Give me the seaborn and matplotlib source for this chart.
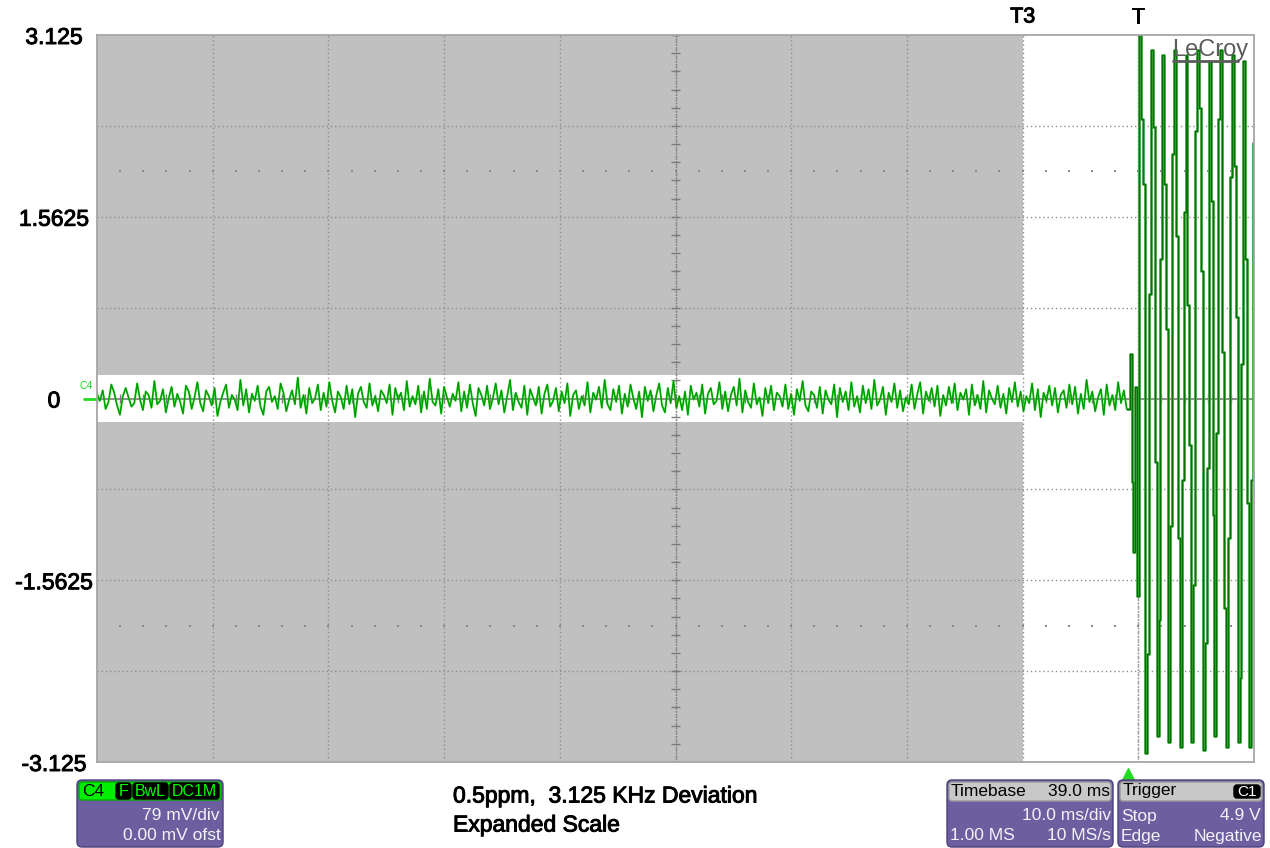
import numpy as np
import pandas as pd
import matplotlib
matplotlib.use("Agg")
import matplotlib.pyplot as plt
import matplotlib.transforms as mtransforms
import matplotlib.patheffects as pe
from matplotlib.patches import FancyBboxPatch
import seaborn as sns

# ---------------- data ----------------
# channel C4 noise before the trigger, in hundredths of a volt
noise_cv = [
    4, -2, 7, -9, -3, 12, 5, -6, -14, 2, 9, 1, -7, -4, 13, -1, -10, 6, 3, -8,
    15, -5, -2, 8, -12, 0, 10, -7, 4, -3, -13, 11, 6, -9, 1, 14, -4, -11, 7, 2,
    -6, 9, -15, -3, 5, 12, -8, 3, -1, -10, 16, -6, 8, -12, 4, -2, 11, -7, -14, 6,
    10, -3, 2, -9, 13, 5, -11, -1, 7, -5, 18, -8, 3, -13, 9, -4, 0, 12, -10, 5,
    -7, 14, -2, -12, 6, 1, -9, 11, -5, 8, -16, 4, 10, -3, -8, 13, -6, 2, -11, 7,
    3, -4, 12, -14, 9, -1, 5, -10, 15, -7, 2, -5, 11, -12, 6, -9, 17, -3, -6, 8,
    -13, 10, 1, -7, 4, -2, 14, -11, 6, -8, 12, -4, -15, 9, 3, -6, 11, -9, 0, 13,
    -5, 7, -12, 2, 16, -10, 5, -3, -8, 11, -14, 8, 1, -6, 10, -13, 4, 12, -7, -2,
    9, -11, 6, -4, 13, -15, 3, 7, -9, 2, -6, 14, -12, 5, -1, 10, -8, 16, -5, -10,
    8, -3, 11, -13, 4, -7, 12, 0, -9, 6, -16, 10, -2, 7, -11, 3, 13, -6, -12, 9,
    -4, 15, -8, 2, -10, 6, -14, 11, -1, 5, -7, 12, -13, 4, 9, -5, -2, 14, -9, 6,
    -11, 3, 10, -6, 17, -12, 7, -3, -8, 13, -5, 1, -15, 9, -4, 11, -10, 5, 2, -7,
    12, -9, 4, -14, 8, -2, 15, -6, -11, 6, 3, -8, 10, -13, 7, -1, -5, 12, -16, 9,
    -3, 6, -10, 14, -7, 2, -12, 11, -4, 8, -9, 16, -6, -1, 10, -14, 5, -3, 13, -8,
    7, -11, 1, -5, 12, -9, 4, 14, -13, 6, -2, 9, -7, 11, -15, 3, -6, 10, -4, 13,
    -10, 5, -1, 8, -14, 12, -6, 3, -9, 15, -12, 7, 0, -5, 11, -8, 4, -13, 9, -3,
    14, -7, 6, -11, 2, -4, 13, -10, 8, -16, 5, -2, 11, -6, 9, -12, 3, 7, -8, 12,
    -5, 10, -13, 4, -9, 16, -3, 6, -11, 1, 8, -14, 12, -6, 3, -10, 14, -4, 7, -9,
]
noise_end_div = 8.9

# transition + burst after the trigger, volts, one sample every 1/60 div from 8.925 div
burst_v = [
    0.38, -0.72, -1.32, 0.10, -1.70,
    3.15, 2.40, 1.84, -3.05, -2.20, 0.90,
    3.00, 2.33, -0.55, -2.90, -1.90, 1.20,
    2.95, 1.84, 0.60, -2.95, -1.10, 2.10,
    3.00, 1.40, -1.20, -3.00, -0.70, 1.60,
    2.95, 0.80, -0.40, -2.95, -1.60, 2.30,
    3.00, 2.50, 1.10, -3.02, -2.10, -0.60,
    2.90, 1.70, -1.00, -2.90, -0.30, 2.40,
    3.00, 0.40, -1.80, -3.00, -1.20, 1.90,
    2.95, 2.00, 0.70, -2.95, -2.40, 0.30,
    2.90, 1.20, -0.90, -3.00, -0.70, 2.20,
    2.90,
]
burst_start_div = 8.925
burst_step_div = 1 / 60

volts_per_div = 0.78125
y_tick_values = [3.125, 1.5625, 0.0, -1.5625, -3.125]
y_tick_labels = ["3.125", "1.5625", "0", "-1.5625", "-3.125"]
cursor_labels = ["T3", "T"]
cursor_divs = [8.0, 9.0]
shade_end_div = 8.0
band_half_v = 0.206
title_lines = ["0.5ppm,  3.125 KHz Deviation", "Expanded Scale"]

# ---------------- frames ----------------
noise_t = np.linspace(0.0, noise_end_div, len(noise_cv))
df_noise = pd.DataFrame({"t": noise_t, "v": np.array(noise_cv) / 100.0})
burst_t = burst_start_div + burst_step_div * np.arange(len(burst_v))
df_burst = pd.DataFrame({"t": np.concatenate([[noise_t[-1]], burst_t]),
                         "v": np.concatenate([[noise_cv[-1] / 100.0], burst_v])})

# ---------------- figure ----------------
sns.set_theme(style="white")
plt.rcParams["font.family"] = ["Liberation Sans", "DejaVu Sans"]

W, H = 1270, 848
fig = plt.figure(figsize=(W / 100, H / 100), dpi=100)
fig.patch.set_facecolor("white")
ax = fig.add_axes([97 / W, 1 - 762 / H, (1254 - 97) / W, (762 - 35) / H])
ax.set_xlim(0, 10)
ax.set_ylim(-3.125, 3.125)
ax.set_facecolor("white")

heavy = [pe.withStroke(linewidth=0.7, foreground="black")]

gray = "#c0c0c0"
ax.fill_between([0, shade_end_div], band_half_v, 3.125, color=gray, lw=0, zorder=0)
ax.fill_between([0, shade_end_div], -3.125, -band_half_v, color=gray, lw=0, zorder=0)

gcol = "#8e8e8e"
for k in range(1, 10):
    ax.axvline(k, color=gcol, lw=1.0, ls=(0, (1, 2)), zorder=1)
for k in range(-3, 4):
    if k != 0:
        ax.axhline(k * volts_per_div, color=gcol, lw=1.0, ls=(0, (1, 2)), zorder=1)
ax.axhline(0, color="#7c7c7c", lw=1.2, zorder=1)
ax.axvline(5, color="#7c7c7c", lw=1.0, ls=(0, (1, 1)), zorder=1)
ax.axvline(9, color="#9a9a9a", lw=1.0, ls=(0, (1, 1)), zorder=1)
# centre graticule ticks
ax.vlines(np.arange(0, 10.001, 0.2), -0.035, 0.035, color="#7c7c7c", lw=1.0, zorder=1)
ax.hlines(np.arange(-3.125, 3.126, volts_per_div / 5), 4.965, 5.035,
          color="#7c7c7c", lw=1.0, zorder=1)
# dotted marker rows
dot_x = np.arange(0.2, 10.0, 0.2)
for yy in (2.5 * volts_per_div, -2.5 * volts_per_div):
    ax.scatter(dot_x, np.full_like(dot_x, yy), s=1.5, color="#8a8a8a",
               marker="s", lw=0, zorder=1)

# waveform
sns.lineplot(data=df_noise, x="t", y="v", sort=False, estimator=None,
             color="#18cc18", lw=1.4, ax=ax, zorder=3)
sns.lineplot(data=df_noise, x="t", y="v", sort=False, estimator=None,
             color="#008a00", lw=0.6, ax=ax, zorder=4)
sns.lineplot(data=df_burst, x="t", y="v", sort=False, estimator=None,
             color="#55b055", lw=2.0, ax=ax, zorder=3, drawstyle="steps-post")
sns.lineplot(data=df_burst, x="t", y="v", sort=False, estimator=None,
             color="#007400", lw=1.0, ax=ax, zorder=4, drawstyle="steps-post")

ax.set_xlabel("")
ax.set_ylabel("")
ax.set_xticks([])
ax.set_yticks(y_tick_values)
ax.set_yticklabels(y_tick_labels, fontsize=16.5, color="black")
for lab in ax.get_yticklabels():
    lab.set_horizontalalignment("center")
    lab.set_path_effects(heavy)
ax.tick_params(axis="y", length=0, pad=31)
for s in ax.spines.values():
    s.set_color("#a6a6a6")
    s.set_linewidth(1.3)
    s.set_zorder(5)

# cursors labels
xt = mtransforms.blended_transform_factory(ax.transData, ax.transAxes)
for lab, xd in zip(cursor_labels, cursor_divs):
    ax.text(xd, 1.0 + 18 / 727, lab, transform=xt, ha="center", va="center",
            fontsize=15.5, color="black", path_effects=heavy)

# channel marker C4
yt = mtransforms.blended_transform_factory(ax.transAxes, ax.transData)
ax.plot([-13 / 1157, 0], [0, 0], transform=yt, color="#22dd22", lw=2, clip_on=False)
ax.text(-11 / 1157, 0.11, "C4", transform=yt, fontsize=7.5, color="#22dd22",
        ha="center", va="center")
# trigger arrow
ax.plot([8.91], [-12 / 727], marker="^", markersize=8, color="#22dd22",
        transform=xt, clip_on=False, lw=0)

IDT = mtransforms.IdentityTransform()


def ty(py):
    return H - py


fig.text(1172 / W, 1 - 50 / H, "LeCroy", fontsize=17, color="#5c5c5c",
         ha="left", va="center", zorder=10)
fig.add_artist(plt.Line2D([1173 / W, 1238 / W], [1 - 61 / H, 1 - 61 / H],
                          color="#5c5c5c", lw=2, transform=fig.transFigure, zorder=10))

# ---------------- info boxes ----------------
purple = "#6d5f9f"
purple_edge = "#4b3f7c"
white_txt = "#f2f2fa"


def rbox(x0, y0, x1, y1, fc, ec, r=4, lw=1.0):
    p = FancyBboxPatch((x0, ty(y1)), x1 - x0, y1 - y0,
                       boxstyle=f"round,pad=0,rounding_size={r}",
                       fc=fc, ec=ec, lw=lw, transform=IDT)
    fig.patches.append(p)


def ftxt(x, y, s, ha="left", color="black", size=12.5, **kw):
    fig.text(x / W, 1 - y / H, s, ha=ha, va="center", color=color, fontsize=size, **kw)


# C4 box
rbox(77, 780, 223, 847, purple, purple_edge, r=5)
rbox(79, 782, 221, 800, "#00ee00", "#00aa00", r=3)
ftxt(82, 791, "C4", size=12.5)
for (a, b, s) in [(116, 131, "F"), (133, 168, "BwL"), (170, 219, "DC1M")]:
    rbox(a, 783, b, 799, "black", "black", r=3)
    ftxt((a + b) / 2, 791, s, ha="center", color="#00ff00", size=11.5)
ftxt(220, 816, "79 mV/div", ha="right", color=white_txt)
ftxt(221, 836, "0.00 mV ofst", ha="right", color=white_txt)

# Timebase box
rbox(947, 780, 1113, 847, purple, purple_edge, r=5)
rbox(949, 782, 1111, 801, "#c8c8c8", "#9a9a9a", r=3)
ftxt(951, 791, "Timebase")
ftxt(1110, 791, "39.0 ms", ha="right")
ftxt(1111, 816, "10.0 ms/div", ha="right", color=white_txt)
ftxt(950, 836, "1.00 MS", color=white_txt)
ftxt(1111, 836, "10 MS/s", ha="right", color=white_txt)

# Trigger box
rbox(1118, 780, 1264, 847, purple, purple_edge, r=5)
rbox(1120, 782, 1262, 801, "#c8c8c8", "#9a9a9a", r=3)
ftxt(1123, 791, "Trigger")
rbox(1234, 785, 1260, 798, "black", "black", r=3)
ftxt(1247, 791.5, "C1", ha="center", color="white", size=11)
ftxt(1121, 816, "Stop", color=white_txt)
ftxt(1261, 816, "4.9 V", ha="right", color=white_txt)
ftxt(1121, 836, "Edge", color=white_txt)
ftxt(1262, 836, "Negative", ha="right", color=white_txt)

# title
ftxt(453, 796, title_lines[0], size=16.5, path_effects=heavy)
ftxt(453, 825, title_lines[1], size=16.5, path_effects=heavy)

fig.savefig("out.png", dpi=100, facecolor="white")
